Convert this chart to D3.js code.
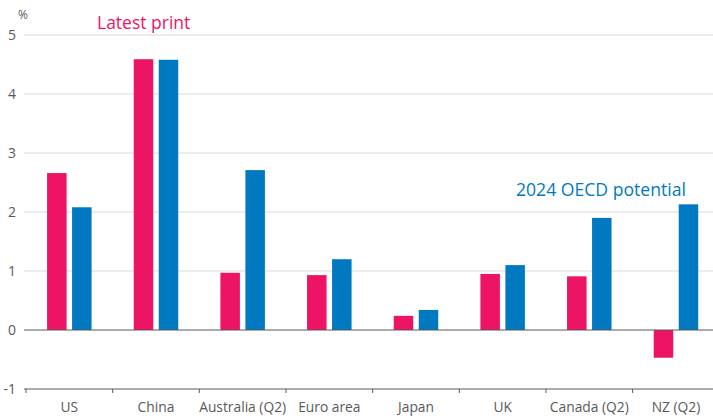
<!DOCTYPE html>
<html>
<head>
<meta charset="utf-8">
<script src="https://cdn.jsdelivr.net/npm/d3@7"></script>
<style>
  body { margin: 0; background: #fff; }
  svg { display: block; font-family: "Open Sans", "Noto Sans", sans-serif; }
</style>
</head>
<body>
<svg width="713" height="418"></svg>
<script>
const width = 713;
const height = 418;

const categories = ["US", "China", "Australia (Q2)", "Euro area", "Japan", "UK", "Canada (Q2)", "NZ (Q2)"];
const latestPrint = [2.66, 4.59, 0.97, 0.93, 0.24, 0.95, 0.91, -0.47];
const oecdPotential = [2.08, 4.58, 2.71, 1.20, 0.34, 1.10, 1.90, 2.13];
const yTicks = [-1, 0, 1, 2, 3, 4, 5];

const pink = "#ED1466";
const blue = "#0079C1";

const svg = d3.select("svg");

const x = d3.scaleBand().domain(categories).range([26, 719.3]);
const y = d3.scaleLinear().domain([-1, 5]).range([389, 35]);

// gridlines
svg.selectAll(".grid")
    .data(yTicks.filter(d => d > 0))
    .enter()
    .append("line")
    .attr("x1", 24).attr("x2", width)
    .attr("y1", d => y(d)).attr("y2", d => y(d))
    .attr("stroke", "#d9d9d9").attr("stroke-width", 1);

// y labels
svg.selectAll(".ylab")
    .data(yTicks)
    .enter()
    .append("text")
    .attr("x", 16)
    .attr("y", d => y(d))
    .attr("dy", "0.35em")
    .attr("text-anchor", "end")
    .attr("fill", "#595959")
    .attr("font-size", 14)
    .text(d => d);

svg.append("text")
    .attr("x", 18).attr("y", 19)
    .attr("fill", "#595959").attr("font-size", 12)
    .text("%");

const bw = 19.5;
const gap = 5.5;
const pad = (x.bandwidth() - 2 * bw - gap) / 2;

const rows = categories.map((c, i) => ({ c, a: latestPrint[i], b: oecdPotential[i] }));

svg.selectAll(".barA")
    .data(rows)
    .enter()
    .append("rect")
    .attr("x", d => x(d.c) + pad)
    .attr("width", bw)
    .attr("y", d => y(Math.max(0, d.a)))
    .attr("height", d => Math.abs(y(d.a) - y(0)))
    .attr("fill", pink);

svg.selectAll(".barB")
    .data(rows)
    .enter()
    .append("rect")
    .attr("x", d => x(d.c) + pad + bw + gap)
    .attr("width", bw)
    .attr("y", d => y(Math.max(0, d.b)))
    .attr("height", d => Math.abs(y(d.b) - y(0)))
    .attr("fill", blue);

// zero line
svg.append("line")
    .attr("x1", 24).attr("x2", width)
    .attr("y1", y(0)).attr("y2", y(0))
    .attr("stroke", "#595959").attr("stroke-width", 1);

// bottom axis at -1
const xAxis = svg.append("g")
    .attr("transform", `translate(0,${y(-1)})`)
    .call(d3.axisBottom(x).tickSize(0).tickPadding(13));
xAxis.select(".domain").remove();
xAxis.selectAll("text")
    .attr("fill", "#595959")
    .attr("font-size", 13.8)
    .attr("font-family", "Open Sans, Noto Sans, sans-serif");

xAxis.append("line")
    .attr("x1", 24).attr("x2", width)
    .attr("stroke", "#595959");

xAxis.selectAll(".sep")
    .data(categories)
    .enter()
    .append("line")
    .attr("x1", d => x(d)).attr("x2", d => x(d))
    .attr("y1", 0).attr("y2", 4)
    .attr("stroke", "#595959");

svg.append("text")
    .attr("x", 97).attr("y", 29)
    .attr("fill", pink).attr("font-size", 17.5)
    .text("Latest print");

svg.append("text")
    .attr("x", 516).attr("y", 196)
    .attr("fill", blue).attr("font-size", 17.6)
    .text("2024 OECD potential");
</script>
</body>
</html>
